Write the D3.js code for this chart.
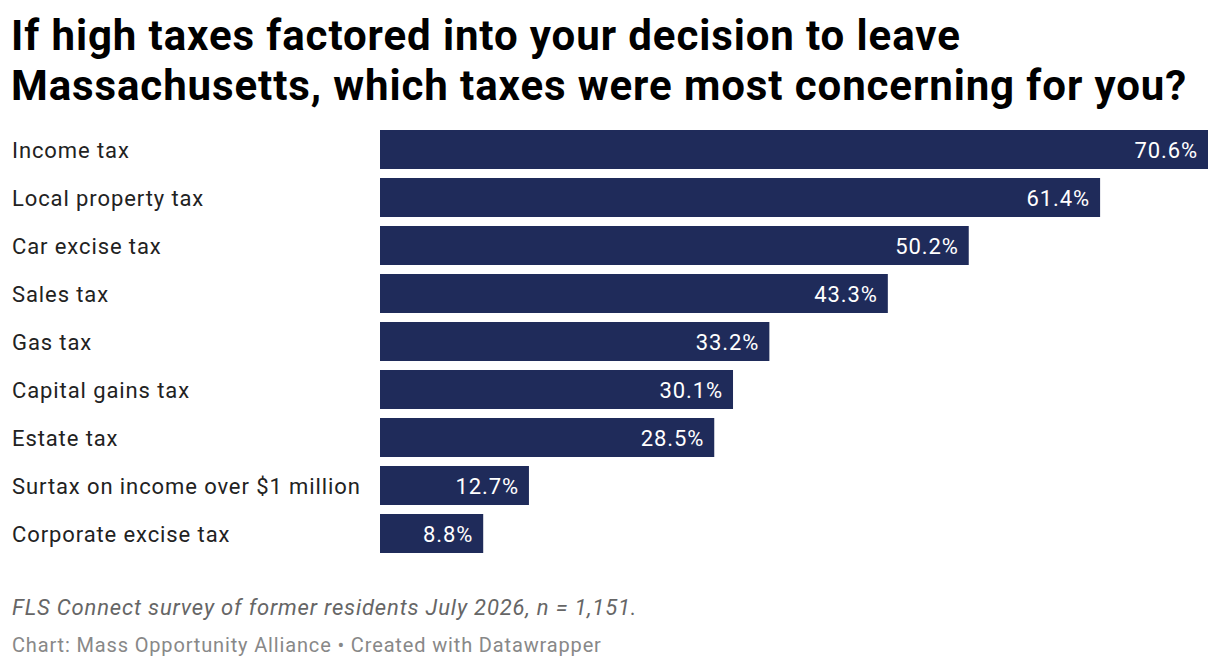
<!DOCTYPE html>
<html><head><meta charset="utf-8">
<script src="https://cdn.jsdelivr.net/npm/d3@7"></script>
<style>
body{margin:0;background:#fff;font-family:Roboto,sans-serif;}
</style></head><body>
<svg id="c" width="1220" height="668"></svg>
<script>
const categories = ["Income tax","Local property tax","Car excise tax","Sales tax","Gas tax","Capital gains tax","Estate tax","Surtax on income over $1 million","Corporate excise tax"];
const values = [70.6,61.4,50.2,43.3,33.2,30.1,28.5,12.7,8.8];
const titleLines = ["If high taxes factored into your decision to leave","Massachusetts, which taxes were most concerning for you?"];
const notes = "FLS Connect survey of former residents July 2026, n = 1,151.";
const credit = "Chart: Mass Opportunity Alliance \u2022 Created with Datawrapper";

const svg = d3.select("#c");
svg.append("rect").attr("width",1220).attr("height",668).attr("fill","#fff");

svg.selectAll("text.title").data(titleLines).join("text")
  .attr("class","title").attr("x",11).attr("y",(d,i)=>50+i*50)
  .attr("font-size",42).attr("font-weight",700).attr("letter-spacing",0.9)
  .attr("fill","#000").text(d=>d);

const x = d3.scaleLinear().domain([0,70.6]).range([380,1208]);
const y = d3.scaleBand().domain(categories).range([130,553]).paddingInner(0.1875).paddingOuter(0);

svg.selectAll("rect.bar").data(categories).join("rect")
  .attr("class","bar").attr("x",x(0)).attr("y",d=>y(d))
  .attr("width",(d,i)=>x(values[i])-x(0)).attr("height",y.bandwidth())
  .attr("fill","#1f2b5a");

svg.selectAll("text.lab").data(categories).join("text")
  .attr("class","lab").attr("x",12).attr("y",d=>y(d)+y.bandwidth()/2+8)
  .attr("font-size",22).attr("letter-spacing",0.9).attr("fill","#222").text(d=>d);

svg.selectAll("text.val").data(categories).join("text")
  .attr("class","val").attr("x",(d,i)=>x(values[i])-10).attr("y",d=>y(d)+y.bandwidth()/2+8)
  .attr("text-anchor","end").attr("font-size",22).attr("letter-spacing",0.9).attr("fill","#fff")
  .text((d,i)=>values[i].toFixed(1)+"%");

svg.append("text").attr("x",12).attr("y",615).attr("font-size",22).attr("font-style","italic")
  .attr("letter-spacing",0.85).attr("fill","#666").text(notes);
svg.append("text").attr("x",12).attr("y",652).attr("font-size",20)
  .attr("letter-spacing",0.85).attr("fill","#888").text(credit);
</script></body></html>
